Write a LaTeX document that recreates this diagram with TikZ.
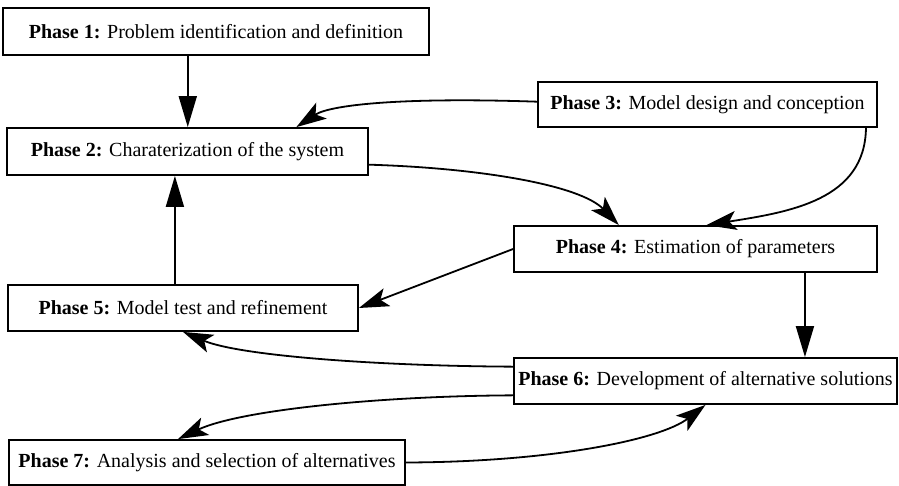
\documentclass[tikz,border=0pt]{standalone}
\usepackage{fontspec}
\setmainfont{Liberation Serif}
\usetikzlibrary{arrows.meta,calc}
\begin{document}
\begin{tikzpicture}[x=1pt,y=-1pt,
  phase/.style={draw, line width=1.8pt, inner sep=0pt, align=center,
    font=\fontsize{20}{24}\selectfont, fill=white},
  flow/.style={line width=1.8pt, -{Triangle[length=31pt,width=18pt]}},
  bent/.style={line width=1.8pt, -{Stealth[length=30pt,width=19pt,inset=7pt]}},
]
\useasboundingbox (0,0) rectangle (899,486);

% phase boxes
\node[phase, minimum width=426pt, minimum height=47pt] (P1) at (216,31.5)
  {\textbf{Phase 1:} Problem identification and definition};
\node[phase, minimum width=361pt, minimum height=47pt] (P2) at (187.5,151.5)
  {\textbf{Phase 2:} Charaterization of the system};
\node[phase, minimum width=339pt, minimum height=45pt] (P3) at (707.5,104.5)
  {\textbf{Phase 3:} Model design and conception};
\node[phase, minimum width=363pt, minimum height=46pt] (P4) at (695.5,249)
  {\textbf{Phase 4:} Estimation of parameters};
\node[phase, minimum width=350pt, minimum height=46pt] (P5) at (183,308)
  {\textbf{Phase 5:} Model test and refinement};
\node[phase, minimum width=383pt, minimum height=46pt] (P6) at (705.5,381)
  {\textbf{Phase 6:} Development of alternative solutions};
\node[phase, minimum width=396pt, minimum height=45pt] (P7) at (207,462.5)
  {\textbf{Phase 7:} Analysis and selection of alternatives};

% attachment points on the box borders
\coordinate (a12) at ($(P1.south west)!0.434!(P1.south east)$);
\coordinate (a52) at ($(P5.north west)!0.477!(P5.north east)$);
\coordinate (a46) at ($(P4.south west)!0.8!(P4.south east)$);
\coordinate (a32s) at ($(P3.north west)!0.44!(P3.south west)$);
\coordinate (a32e) at ($(P2.north west)!0.8!(P2.north east)$);
\coordinate (a24s) at ($(P2.north east)!0.77!(P2.south east)$);
\coordinate (a24e) at ($(P4.north west)!0.29!(P4.north east)$);
\coordinate (a34s) at ($(P3.south west)!0.965!(P3.south east)$);
\coordinate (a34e) at ($(P4.north west)!0.53!(P4.north east)$);
\coordinate (a65s) at ($(P6.north west)!0.2!(P6.south west)$);
\coordinate (a67s) at ($(P6.north west)!0.8!(P6.south west)$);
\coordinate (a67e) at ($(P7.north west)!0.427!(P7.north east)$);

% straight connectors
\draw[flow] (a12) -- (a12 |- P2.north);
\draw[flow] (a52) -- (a52 |- P2.south);
\draw[flow] (a46) -- (a46 |- P6.north);
\draw[bent] (P4.west) -- (P5.east);

% curved connectors
\draw[bent] (a32s) .. controls (400,97) and (330,105) .. (a32e);
\draw[bent] (a24s) .. controls (480,168) and (580,185) .. (a24e);
\draw[bent] (a34s) .. controls (865,200) and (790,212) .. (a34e);
\draw[bent] (a65s) .. controls (380,366) and (240,356) .. (P5.south);
\draw[bent] (a67s) .. controls (380,396) and (240,410) .. (a67e);
\draw[bent] (P7.east) .. controls (550,462) and (660,440) .. (P6.south);
\end{tikzpicture}
\end{document}
